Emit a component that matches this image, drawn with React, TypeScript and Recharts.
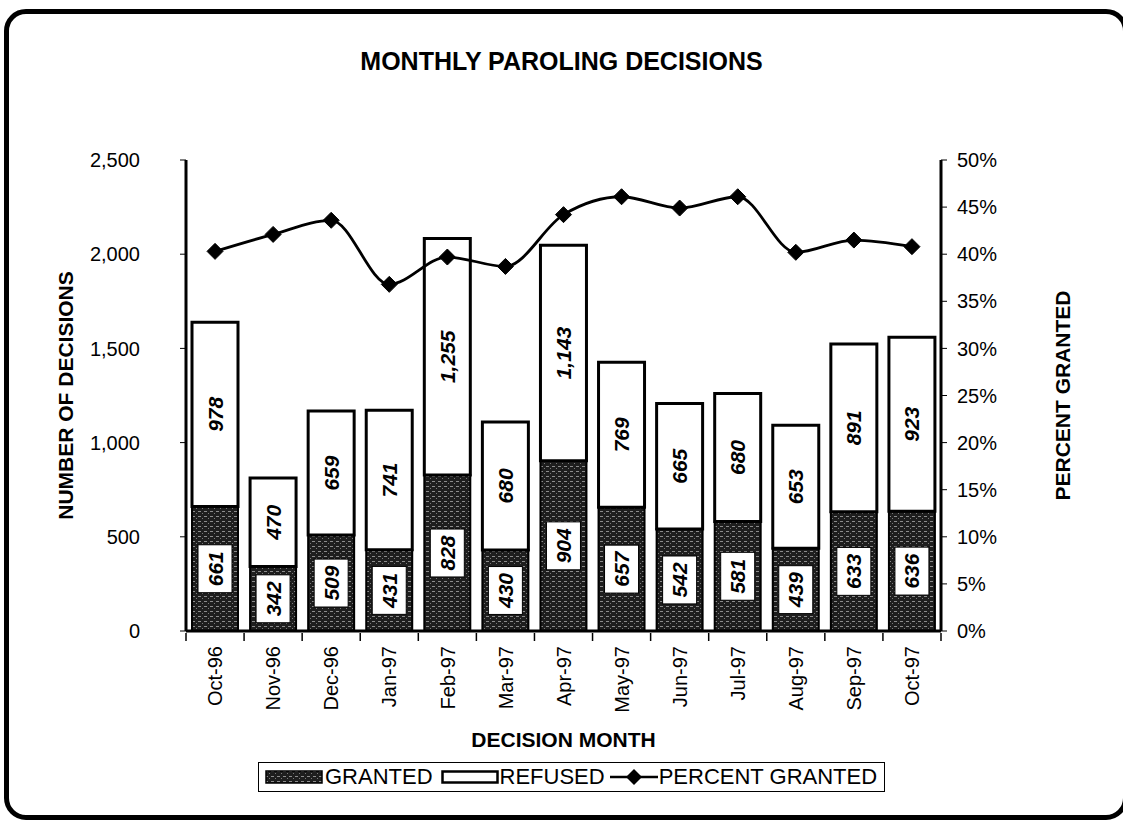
import React from 'react';
import { ComposedChart, Bar, Line, XAxis, YAxis, LabelList } from 'recharts';

const months = ['Oct-96', 'Nov-96', 'Dec-96', 'Jan-97', 'Feb-97', 'Mar-97', 'Apr-97', 'May-97', 'Jun-97', 'Jul-97', 'Aug-97', 'Sep-97', 'Oct-97'];
const granted = [661, 342, 509, 431, 828, 430, 904, 657, 542, 581, 439, 633, 636];
const refused = [978, 470, 659, 741, 1255, 680, 1143, 769, 665, 680, 653, 891, 923];
const percentGranted = [40.3, 42.1, 43.6, 36.8, 39.7, 38.7, 44.2, 46.1, 44.9, 46.1, 40.2, 41.5, 40.8];
const countTicks = [0, 500, 1000, 1500, 2000, 2500];
const percentTicks = [0, 5, 10, 15, 20, 25, 30, 35, 40, 45, 50];

const data = months.map((m, i) => ({
  month: m,
  granted: granted[i],
  refused: refused[i],
  pct: percentGranted[i],
}));

const FF = '"Liberation Sans", Arial, Helvetica, sans-serif';
const fmtNum = (v: number) => v.toLocaleString('en-US');

const PatternDefs = ({ id }: { id: string }) => (
  <defs>
    <pattern id={id} width="6" height="5" patternUnits="userSpaceOnUse">
      <rect width="6" height="5" fill="#1e1e1e" />
      <rect x="0" y="1" width="3" height="1" fill="#8c8c8c" />
      <rect x="4" y="3" width="1" height="1" fill="#7a7a7a" />
    </pattern>
  </defs>
);

const LABEL_FS = 21;

const GrantedLabel = (props: any) => {
  const { x, y, width, height, value } = props;
  const cx = x + width / 2;
  const cy = y + height / 2;
  const s = fmtNum(value);
  const bh = s.length * LABEL_FS * 0.57 + 12;
  const bw = 34;
  return (
    <g>
      <rect x={cx - bw / 2} y={cy - bh / 2} width={bw} height={bh} fill="#fff" stroke="#000" strokeWidth={1} />
      <text
        x={cx}
        y={cy}
        dy="0.36em"
        textAnchor="middle"
        transform={`rotate(-90, ${cx}, ${cy})`}
        fontFamily={FF}
        fontSize={LABEL_FS}
        fontWeight="bold"
        fontStyle="italic"
        fill="#000"
      >
        {s}
      </text>
    </g>
  );
};

const RefusedLabel = (props: any) => {
  const { x, y, width, height, value } = props;
  const cx = x + width / 2;
  const cy = y + height / 2;
  return (
    <text
      x={cx}
      y={cy}
      dy="0.36em"
      textAnchor="middle"
      transform={`rotate(-90, ${cx}, ${cy})`}
      fontFamily={FF}
      fontSize={LABEL_FS}
      fontWeight="bold"
      fontStyle="italic"
      fill="#000"
    >
      {fmtNum(value)}
    </text>
  );
};

const Diamond = (props: any) => {
  const { cx, cy } = props;
  if (cx == null || cy == null) return null;
  const r = 8;
  return (
    <polygon
      key={`d-${cx}`}
      points={`${cx},${cy - r} ${cx + r},${cy} ${cx},${cy + r} ${cx - r},${cy}`}
      fill="#000"
      stroke="#000"
    />
  );
};

const MonthTick = (props: any) => {
  const { x, y, payload, index, visibleTicksCount } = props;
  const half = payload && typeof payload.offset === 'number' && payload.offset > 0 ? payload.offset : 29;
  const ty = y + 7;
  const baseY = y - 6;
  const isLast = visibleTicksCount != null ? index === visibleTicksCount - 1 : payload.value === months[months.length - 1];
  return (
    <g>
      <line x1={x - half} y1={baseY} x2={x - half} y2={baseY + 8} stroke="#000" strokeWidth={1.5} />
      {isLast && <line x1={x + half} y1={baseY} x2={x + half} y2={baseY + 8} stroke="#000" strokeWidth={1.5} />}
      <text
        x={x}
        y={ty}
        dy="0.36em"
        textAnchor="end"
        transform={`rotate(-90, ${x}, ${ty})`}
        fontFamily={FF}
        fontSize={20}
        fill="#000"
      >
        {payload.value}
      </text>
    </g>
  );
};

const legendText: React.CSSProperties = { fontFamily: FF, fontSize: 22, color: '#000', lineHeight: '28px', whiteSpace: 'nowrap' };
const axisTitle = { fontFamily: FF, fontSize: 21, fontWeight: 'bold', fill: '#000' };

export default function App() {
  return (
    <div style={{ position: 'absolute', left: 0, top: 0, width: 1123, height: 823, background: '#fff', overflow: 'hidden' }}>
      <div
        style={{
          position: 'absolute',
          left: 4,
          top: 9,
          width: 1124,
          height: 811,
          boxSizing: 'border-box',
          border: '5px solid #000',
          borderRadius: 22,
        }}
      />
      <div
        style={{
          position: 'absolute',
          left: 0,
          width: 1123,
          top: 47,
          textAlign: 'center',
          fontFamily: FF,
          fontSize: 25,
          fontWeight: 'bold',
          color: '#000',
        }}
      >
        MONTHLY PAROLING DECISIONS
      </div>
      <div style={{ position: 'absolute', left: 0, top: 0 }}>
        <ComposedChart
          width={1123}
          height={823}
          data={data}
          margin={{ top: 160, right: 52, bottom: 102, left: 56 }}
        >
          <PatternDefs id="grantedPat" />
          <XAxis
            xAxisId="cat"
            dataKey="month"
            tick={<MonthTick />}
            tickLine={false}
            axisLine={{ stroke: '#000', strokeWidth: 3 }}
            height={90}
            interval={0}
            label={{
              value: 'DECISION MONTH',
              position: 'insideBottom',
              offset: 0,
              dy: 26,
              style: axisTitle,
            }}
          />
          <XAxis
            xAxisId="top"
            dataKey="month"
            orientation="top"
            height={0}
            tick={false}
            tickLine={false}
            axisLine={{ stroke: '#000', strokeWidth: 3 }}
          />
          <YAxis
            yAxisId="left"
            domain={[0, 2500]}
            ticks={countTicks}
            tickFormatter={fmtNum}
            width={130}
            tickSize={6}
            tickMargin={40}
            axisLine={{ stroke: '#000', strokeWidth: 3 }}
            tickLine={{ stroke: '#000', strokeWidth: 1 }}
            tick={{ fontFamily: FF, fontSize: 20, fill: '#000' }}
            label={{
              value: 'NUMBER OF DECISIONS',
              angle: -90,
              position: 'insideLeft',
              offset: 10,
              style: { ...axisTitle, textAnchor: 'middle' },
            }}
          />
          <YAxis
            yAxisId="right"
            orientation="right"
            domain={[0, 50]}
            ticks={percentTicks}
            tickFormatter={(v: number) => `${v}%`}
            width={130}
            tickSize={6}
            tickMargin={10}
            axisLine={{ stroke: '#000', strokeWidth: 3 }}
            tickLine={{ stroke: '#000', strokeWidth: 1 }}
            tick={{ fontFamily: FF, fontSize: 20, fill: '#000' }}
            label={{
              value: 'PERCENT GRANTED',
              angle: -90,
              position: 'insideRight',
              offset: 8,
              style: { ...axisTitle, textAnchor: 'middle' },
            }}
          />
          <Bar
            xAxisId="cat"
            yAxisId="left"
            dataKey="granted"
            stackId="a"
            barSize={46}
            fill="url(#grantedPat)"
            stroke="#000"
            strokeWidth={2}
            isAnimationActive={false}
          >
            <LabelList dataKey="granted" content={<GrantedLabel />} />
          </Bar>
          <Bar
            xAxisId="cat"
            yAxisId="left"
            dataKey="refused"
            stackId="a"
            barSize={46}
            fill="#fff"
            stroke="#000"
            strokeWidth={3}
            isAnimationActive={false}
          >
            <LabelList dataKey="refused" content={<RefusedLabel />} />
          </Bar>
          <Line
            xAxisId="cat"
            yAxisId="right"
            type="monotone"
            dataKey="pct"
            stroke="#000"
            strokeWidth={2.8}
            dot={<Diamond />}
            activeDot={false}
            isAnimationActive={false}
          />
        </ComposedChart>
      </div>
      <div
        style={{
          position: 'absolute',
          left: 258,
          top: 762,
          width: 627,
          height: 30,
          boxSizing: 'border-box',
          border: '1px solid #000',
          display: 'flex',
          alignItems: 'center',
          paddingLeft: 6,
          background: '#fff',
        }}
      >
        <svg width={58} height={14} style={{ display: 'block', flex: 'none' }}>
          <PatternDefs id="grantedPatLegend" />
          <rect x={1} y={1} width={56} height={12} fill="url(#grantedPatLegend)" stroke="#000" strokeWidth={1.5} />
        </svg>
        <span style={{ ...legendText, marginLeft: 2 }}>GRANTED</span>
        <svg width={58} height={14} style={{ display: 'block', marginLeft: 8, flex: 'none' }}>
          <rect x={1.5} y={1.5} width={55} height={11} fill="#fff" stroke="#000" strokeWidth={2.5} />
        </svg>
        <span style={{ ...legendText, marginLeft: 1 }}>REFUSED</span>
        <svg width={48} height={18} style={{ display: 'block', marginLeft: 5, flex: 'none' }}>
          <line x1={0} y1={9} x2={48} y2={9} stroke="#000" strokeWidth={2.5} />
          <polygon points="24,1 32,9 24,17 16,9" fill="#000" />
        </svg>
        <span style={{ ...legendText, marginLeft: 1 }}>PERCENT GRANTED</span>
      </div>
    </div>
  );
}
